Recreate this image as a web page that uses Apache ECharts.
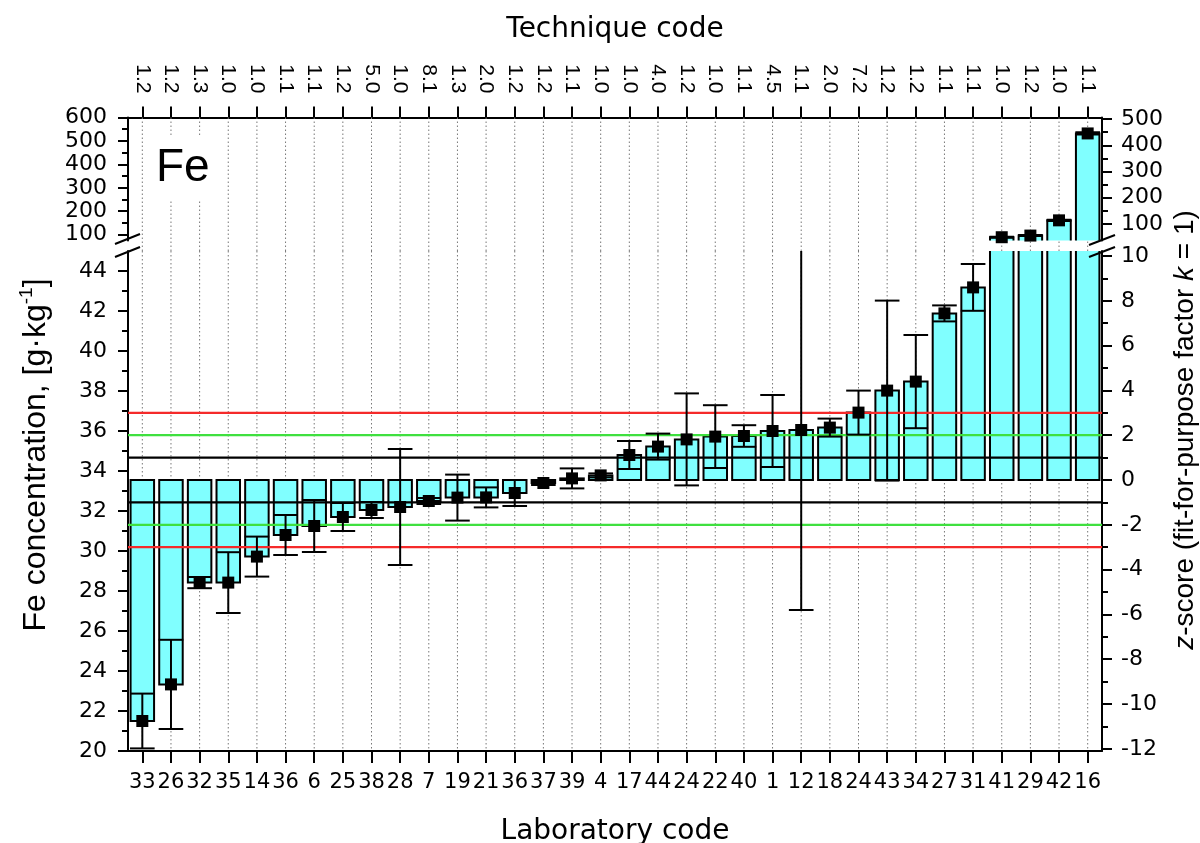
<!DOCTYPE html>
<html><head><meta charset="utf-8">
<script src="https://cdn.jsdelivr.net/npm/echarts@6/dist/echarts.min.js"></script>
<style>html,body{margin:0;padding:0;background:#fff}#c{width:1200px;height:843px}</style>
</head><body><div id="c"></div>
<script>
// ---------------- data ----------------
const labCodes = ['33','26','32','35','14','36','6','25','38','28','7','19','21','36','37','39','4','17','44','24','22','40','1','12','18','24','43','34','27','31','41','29','42','16'];
const techniqueCodes = ['1.2','1.2','1.3','1.0','1.0','1.1','1.1','1.2','5.0','1.0','8.1','1.3','2.0','1.2','1.2','1.1','1.0','1.0','4.0','1.2','1.0','1.1','4.5','1.1','2.0','7.2','1.2','1.2','1.1','1.1','1.0','1.2','1.0','1.1'];
const feValues = [21.5, 23.33, 28.42, 28.42, 29.72, 30.8, 31.25, 31.7, 32.05, 32.2, 32.5, 32.67, 32.68, 32.9, 33.4, 33.63, 33.78, 34.8, 35.22, 35.58, 35.72, 35.75, 36.0, 36.05, 36.17, 36.92, 38.02, 38.47, 41.88, 43.18, 89, 96, 161, 532];
const feUncert = [1.37, 2.23, 0.28, 1.52, 1.0, 1.0, 1.3, 0.7, 0.4, 2.9, 0.15, 1.15, 0.5, 0.65, 0.1, 0.5, 0.1, 0.7, 0.65, 2.3, 1.57, 0.54, 1.8, 9.0, 0.45, 1.1, 4.5, 2.33, 0.4, 1.17, 2, 2, 3, 5];
const assignedValue = 33.55;
const sigmaP = 1.12;
const zLevels = [-3, -2, -1, 1, 2, 3];
const lowerRange = [20, 45];
const upperRange = [75, 600];
const leftLowerTicks = [20,22,24,26,28,30,32,34,36,38,40,42,44];
const leftLowerMinor = [21,23,25,27,29,31,33,35,37,39,41,43];
const leftUpperTicks = [100,200,300,400,500,600];
const leftUpperMinor = [150,250,350,450,550];
const zLowerTicks = [-12,-10,-8,-6,-4,-2,0,2,4,6,8,10];
const zLowerMinor = [-11,-9,-7,-5,-3,-1,1,3,5,7,9];
const zUpperTicks = [100,200,300,400,500];
const zUpperMinor = [150,250,350,450];

// ---------------- chart ----------------
const toZ = c => (c - assignedValue) / sigmaP;
const hFont = 'DejaVu Sans', vFont = 'Liberation Sans';
const black = '#000';
const axLine = {show: true, onZero: false, lineStyle: {color: black, width: 2}};

function yPair(grid, pos, min, max, ticks, minor) {
  return [{
    gridIndex: grid, type: 'value', position: pos, min: min, max: max,
    axisLine: axLine,
    axisTick: {show: true, inside: false, length: 10, customValues: ticks, lineStyle: {color: black, width: 2}},
    axisLabel: {show: true, customValues: ticks, margin: pos === 'left' ? 21 : 19, fontSize: 22, fontFamily: hFont, color: black},
    splitLine: {show: false}
  }, {
    gridIndex: grid, type: 'value', position: pos, min: min, max: max,
    axisLine: {show: false},
    axisTick: {show: true, inside: false, length: 6, customValues: minor, lineStyle: {color: black, width: 2}},
    axisLabel: {show: false},
    splitLine: {show: false}
  }];
}

const yAxes = [].concat(
  yPair(0, 'left', upperRange[0], upperRange[1], leftUpperTicks, leftUpperMinor),
  yPair(0, 'right', toZ(upperRange[0]), toZ(upperRange[1]), zUpperTicks, zUpperMinor),
  yPair(1, 'left', lowerRange[0], lowerRange[1], leftLowerTicks, leftLowerMinor),
  yPair(1, 'right', toZ(lowerRange[0]), toZ(lowerRange[1]), zLowerTicks, zLowerMinor)
);

const pts = feValues.map((v, i) => [i, v, feUncert[i]]);
const idx = labCodes.map((_, i) => [i, 0]);

function renderGridLine(params, api) {
  const cs = params.coordSys;
  const x = api.coord([api.value(0), lowerRange[0]])[0];
  return {type: 'line', silent: true,
    shape: {x1: x, y1: cs.y, x2: x, y2: cs.y + cs.height + (params.seriesIndex === 0 ? 11 : 0)},
    style: {stroke: '#777', lineWidth: 1, lineDash: [1.5, 2.5]}};
}
function renderBar(params, api) {
  const i = api.value(0), v = api.value(1);
  const top = api.coord([i, v]);
  const base = api.coord([i, assignedValue]);
  const w = api.size([1, 0])[0] * 0.82;
  return {type: 'rect',
    shape: {x: top[0] - w / 2, y: Math.min(top[1], base[1]), width: w, height: Math.abs(base[1] - top[1])},
    style: {fill: '#80ffff', stroke: black, lineWidth: 2}};
}
function renderErr(params, api) {
  const i = api.value(0), v = api.value(1), e = api.value(2);
  const hi = api.coord([i, v + e]), lo = api.coord([i, v - e]);
  const h = api.size([1, 0])[0] * 0.43;
  const st = {stroke: black, lineWidth: 2};
  return {type: 'group', children: [
    {type: 'line', shape: {x1: hi[0], y1: hi[1], x2: lo[0], y2: lo[1]}, style: st},
    {type: 'line', shape: {x1: hi[0] - h, y1: hi[1], x2: hi[0] + h, y2: hi[1]}, style: st},
    {type: 'line', shape: {x1: lo[0] - h, y1: lo[1], x2: lo[0] + h, y2: lo[1]}, style: st}
  ]};
}
function renderZLine(params, api) {
  const cs = params.coordSys;
  const z = api.value(2);
  const y = api.coord([0, api.value(1)])[1];
  const col = Math.abs(z) === 3 ? '#f52a2a' : (Math.abs(z) === 2 ? '#3fe03f' : black);
  return {type: 'line', shape: {x1: cs.x, y1: y, x2: cs.x + cs.width, y2: y},
    style: {stroke: col, lineWidth: 2.2}};
}

const option = {
  backgroundColor: '#fff',
  animation: false,
  grid: [
    {left: 128, right: 98, top: 117.5, height: 123, outerBoundsMode: 'none', containLabel: false},
    {left: 128, right: 98, top: 251, height: 500, outerBoundsMode: 'none', containLabel: false}
  ],
  xAxis: [{
    gridIndex: 0, type: 'category', position: 'top', data: techniqueCodes, boundaryGap: true,
    axisLine: axLine,
    axisTick: {show: true, alignWithLabel: true, length: 11, lineStyle: {color: black, width: 2}},
    axisLabel: {interval: 0, rotate: 90, margin: 24, fontSize: 21, fontFamily: vFont, color: black},
    splitLine: {show: false},
    name: 'Technique code', nameLocation: 'middle', nameGap: 74,
    nameTextStyle: {fontSize: 28, fontFamily: hFont, color: black}
  }, {
    gridIndex: 1, type: 'category', position: 'bottom', data: labCodes, boundaryGap: true,
    axisLine: axLine,
    axisTick: {show: true, alignWithLabel: true, length: 12, lineStyle: {color: black, width: 2}},
    axisLabel: {interval: 0, margin: 21, fontSize: 21, fontFamily: hFont, color: black},
    splitLine: {show: false},
    name: 'Laboratory code', nameLocation: 'middle', nameGap: 67,
    nameTextStyle: {fontSize: 28, fontFamily: hFont, color: black}
  }],
  yAxis: yAxes,
  series: [
    {type: 'custom', name: 'grid-upper', xAxisIndex: 0, yAxisIndex: 0, data: idx, renderItem: renderGridLine, z: 1, silent: true},
    {type: 'custom', name: 'grid-lower', xAxisIndex: 1, yAxisIndex: 4, data: idx, renderItem: renderGridLine, z: 1, silent: true},
    {type: 'custom', name: 'bars-upper', xAxisIndex: 0, yAxisIndex: 0, data: pts, renderItem: renderBar, clip: true, z: 2, encode: {x: 0, y: 1}},
    {type: 'custom', name: 'bars-lower', xAxisIndex: 1, yAxisIndex: 4, data: pts, renderItem: renderBar, clip: true, z: 2, encode: {x: 0, y: 1}},
    {type: 'custom', name: 'z-lines', xAxisIndex: 1, yAxisIndex: 4,
      data: zLevels.map(z => [0, assignedValue + z * sigmaP, z]), renderItem: renderZLine, z: 3, silent: true},
    {type: 'custom', name: 'err-upper', xAxisIndex: 0, yAxisIndex: 0, data: pts, renderItem: renderErr, clip: true, z: 4, encode: {x: 0, y: 1}},
    {type: 'custom', name: 'err-lower', xAxisIndex: 1, yAxisIndex: 4, data: pts, renderItem: renderErr, clip: true, z: 4, encode: {x: 0, y: 1}},
    {type: 'scatter', name: 'mean-upper', xAxisIndex: 0, yAxisIndex: 0, data: pts.map(p => [p[0], p[1]]),
      symbol: 'rect', symbolSize: 12, itemStyle: {color: black, opacity: 1}, clip: true, z: 5},
    {type: 'scatter', name: 'mean-lower', xAxisIndex: 1, yAxisIndex: 4, data: pts.map(p => [p[0], p[1]]),
      symbol: 'rect', symbolSize: 12, itemStyle: {color: black, opacity: 1}, clip: true, z: 5}
  ],
  graphic: [
    {type: 'text', left: 146, top: 135, z: 100,
      style: {text: 'Fe', font: '46px "Liberation Sans"', fill: black, backgroundColor: '#fff', padding: [10, 10]}},
    {type: 'line', z: 100, shape: {x1: 115, y1: 244, x2: 140, y2: 234}, style: {stroke: black, lineWidth: 2}},
    {type: 'line', z: 100, shape: {x1: 115, y1: 257, x2: 140, y2: 247}, style: {stroke: black, lineWidth: 2}},
    {type: 'line', z: 100, shape: {x1: 1089, y1: 245, x2: 1115, y2: 235}, style: {stroke: black, lineWidth: 2}},
    {type: 'line', z: 100, shape: {x1: 1089, y1: 257, x2: 1115, y2: 247}, style: {stroke: black, lineWidth: 2}},
    {type: 'text', x: 36, y: 455, rotation: Math.PI / 2, z: 100,
      style: {text: '{n|Fe concentration, [g·kg}{s|-1}{n|]}', align: 'center', verticalAlign: 'middle',
        rich: {n: {fontSize: 32, fontFamily: vFont, fill: black, lineHeight: 37},
               s: {fontSize: 19, fontFamily: vFont, fill: black, lineHeight: 37, verticalAlign: 'top'}}}},
    {type: 'text', x: 1185, y: 430, rotation: Math.PI / 2, z: 100,
      style: {text: '{i|z}{n|-score (fit-for-purpose factor }{i|k}{n| = 1)}', align: 'center', verticalAlign: 'middle',
        rich: {n: {fontSize: 28, fontFamily: vFont, fill: black},
               i: {fontSize: 28, fontFamily: vFont, fontStyle: 'italic', fill: black}}}}
  ]
};
const chart = echarts.init(document.getElementById('c'));
chart.setOption(option);
</script></body></html>
